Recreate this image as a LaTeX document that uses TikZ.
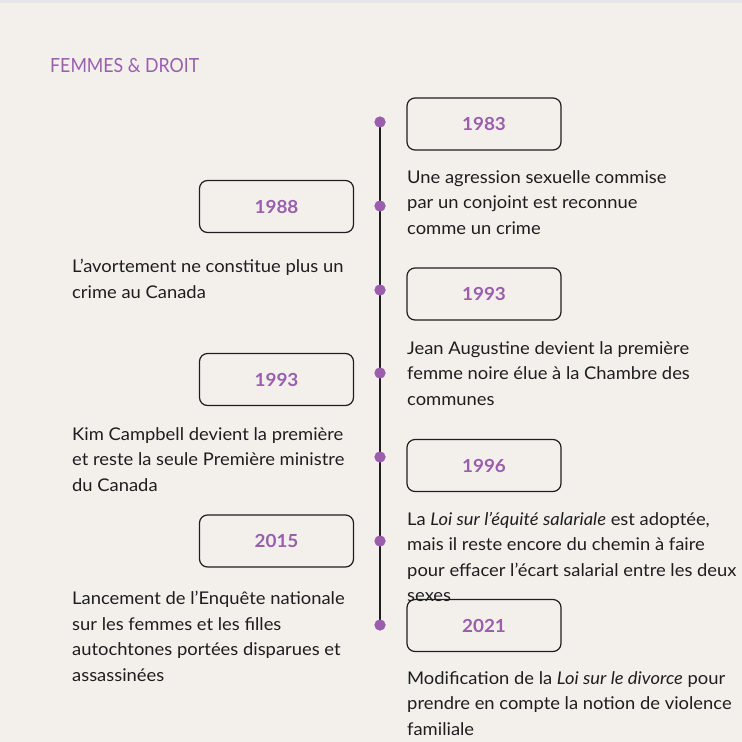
\documentclass[tikz,border=0pt]{standalone}
\usepackage{fontspec}
\setmainfont[FakeStretch=1.05]{Lato}
\newfontfamily\titrefont[FakeStretch=0.91]{Lato}
\usetikzlibrary{positioning}
\definecolor{mauve}{HTML}{9A5EAD}
\definecolor{fond}{HTML}{F3F0EC}
\definecolor{bande}{HTML}{E6E6EA}
\definecolor{trait}{HTML}{1E1E1E}
\tikzset{
  annee/.style={draw=trait, line width=1.2pt, rounded corners=8pt, minimum width=154pt,
    minimum height=52pt, text=mauve, font=\fontsize{18}{20}\selectfont\bfseries},
  jalon/.style={circle, fill=mauve, inner sep=0pt, minimum size=11pt},
  recit/.style={anchor=north west, inner sep=0pt, align=left, text=trait,
    font=\fontsize{17.5}{25.5}\selectfont},
}
\begin{document}
\begin{tikzpicture}[x=1pt, y=-1pt]
  \fill[fond] (0,0) rectangle (742,742);
  \fill[bande] (0,0) rectangle (742,3);
  \useasboundingbox (0,0) rectangle (742,742);
  \node[anchor=base west, inner sep=0pt, text=mauve, font=\titrefont\fontsize{19.5}{24}\selectfont]
    (titre) at (50,72) {FEMMES \& DROIT};
  % jalons
  \node[jalon] (d1) at (380,122) {};
  \node[jalon] (d2) at (380,206) {};
  \node[jalon] (d3) at (380,290) {};
  \node[jalon] (d4) at (380,373) {};
  \node[jalon] (d5) at (380,457) {};
  \node[jalon] (d6) at (380,541) {};
  \node[jalon] (d7) at (380,625) {};
  \draw[trait, line width=1.6pt] (d1.center) -- (d7.center);
  \foreach \d in {d1,d2,d3,d4,d5,d6,d7}
    \fill[mauve] (\d) circle (5.5pt);
  % annees
  \node[annee] (a1983) at (484,124) {1983};
  \node[annee] (a1988) at (276.5,206.5) {1988};
  \node[annee] (a1993d) at (484,294) {1993};
  \node[annee] (a1993g) at (276.5,379.5) {1993};
  \node[annee] (a1996) at (484,465.5) {1996};
  \node[annee] (a2015) at (276.5,541) {2015};
  \node[annee] (a2021) at (484,625.5) {2021};
  % textes
  \node[recit] (t1983) at (407,170) {Une agression sexuelle commise\\par un conjoint est reconnue\\comme un crime};
  \node[recit] (t1988) at (72,259) {L’avortement ne constitue plus un\\crime au Canada};
  \node[recit] (t1993d) at (407,341) {Jean Augustine devient la première\\femme noire élue à la Chambre des\\communes};
  \node[recit] (t1993g) at (72,427) {Kim Campbell devient la première\\et reste la seule Première ministre\\du Canada};
  \node[recit] (t1996) at (407,512) {La \textit{Loi sur l’équité salariale} est adoptée,\\mais il reste encore du chemin à faire\\pour effacer l’écart salarial entre les deux\\sexes};
  \node[recit] (t2015) at (72,591) {Lancement de l’Enquête nationale\\sur les femmes et les filles\\autochtones portées disparues et\\assassinées};
  \node[recit] (t2021) at (407,671) {Modification de la \textit{Loi sur le divorce} pour\\prendre en compte la notion de violence\\familiale};
\end{tikzpicture}
\end{document}
